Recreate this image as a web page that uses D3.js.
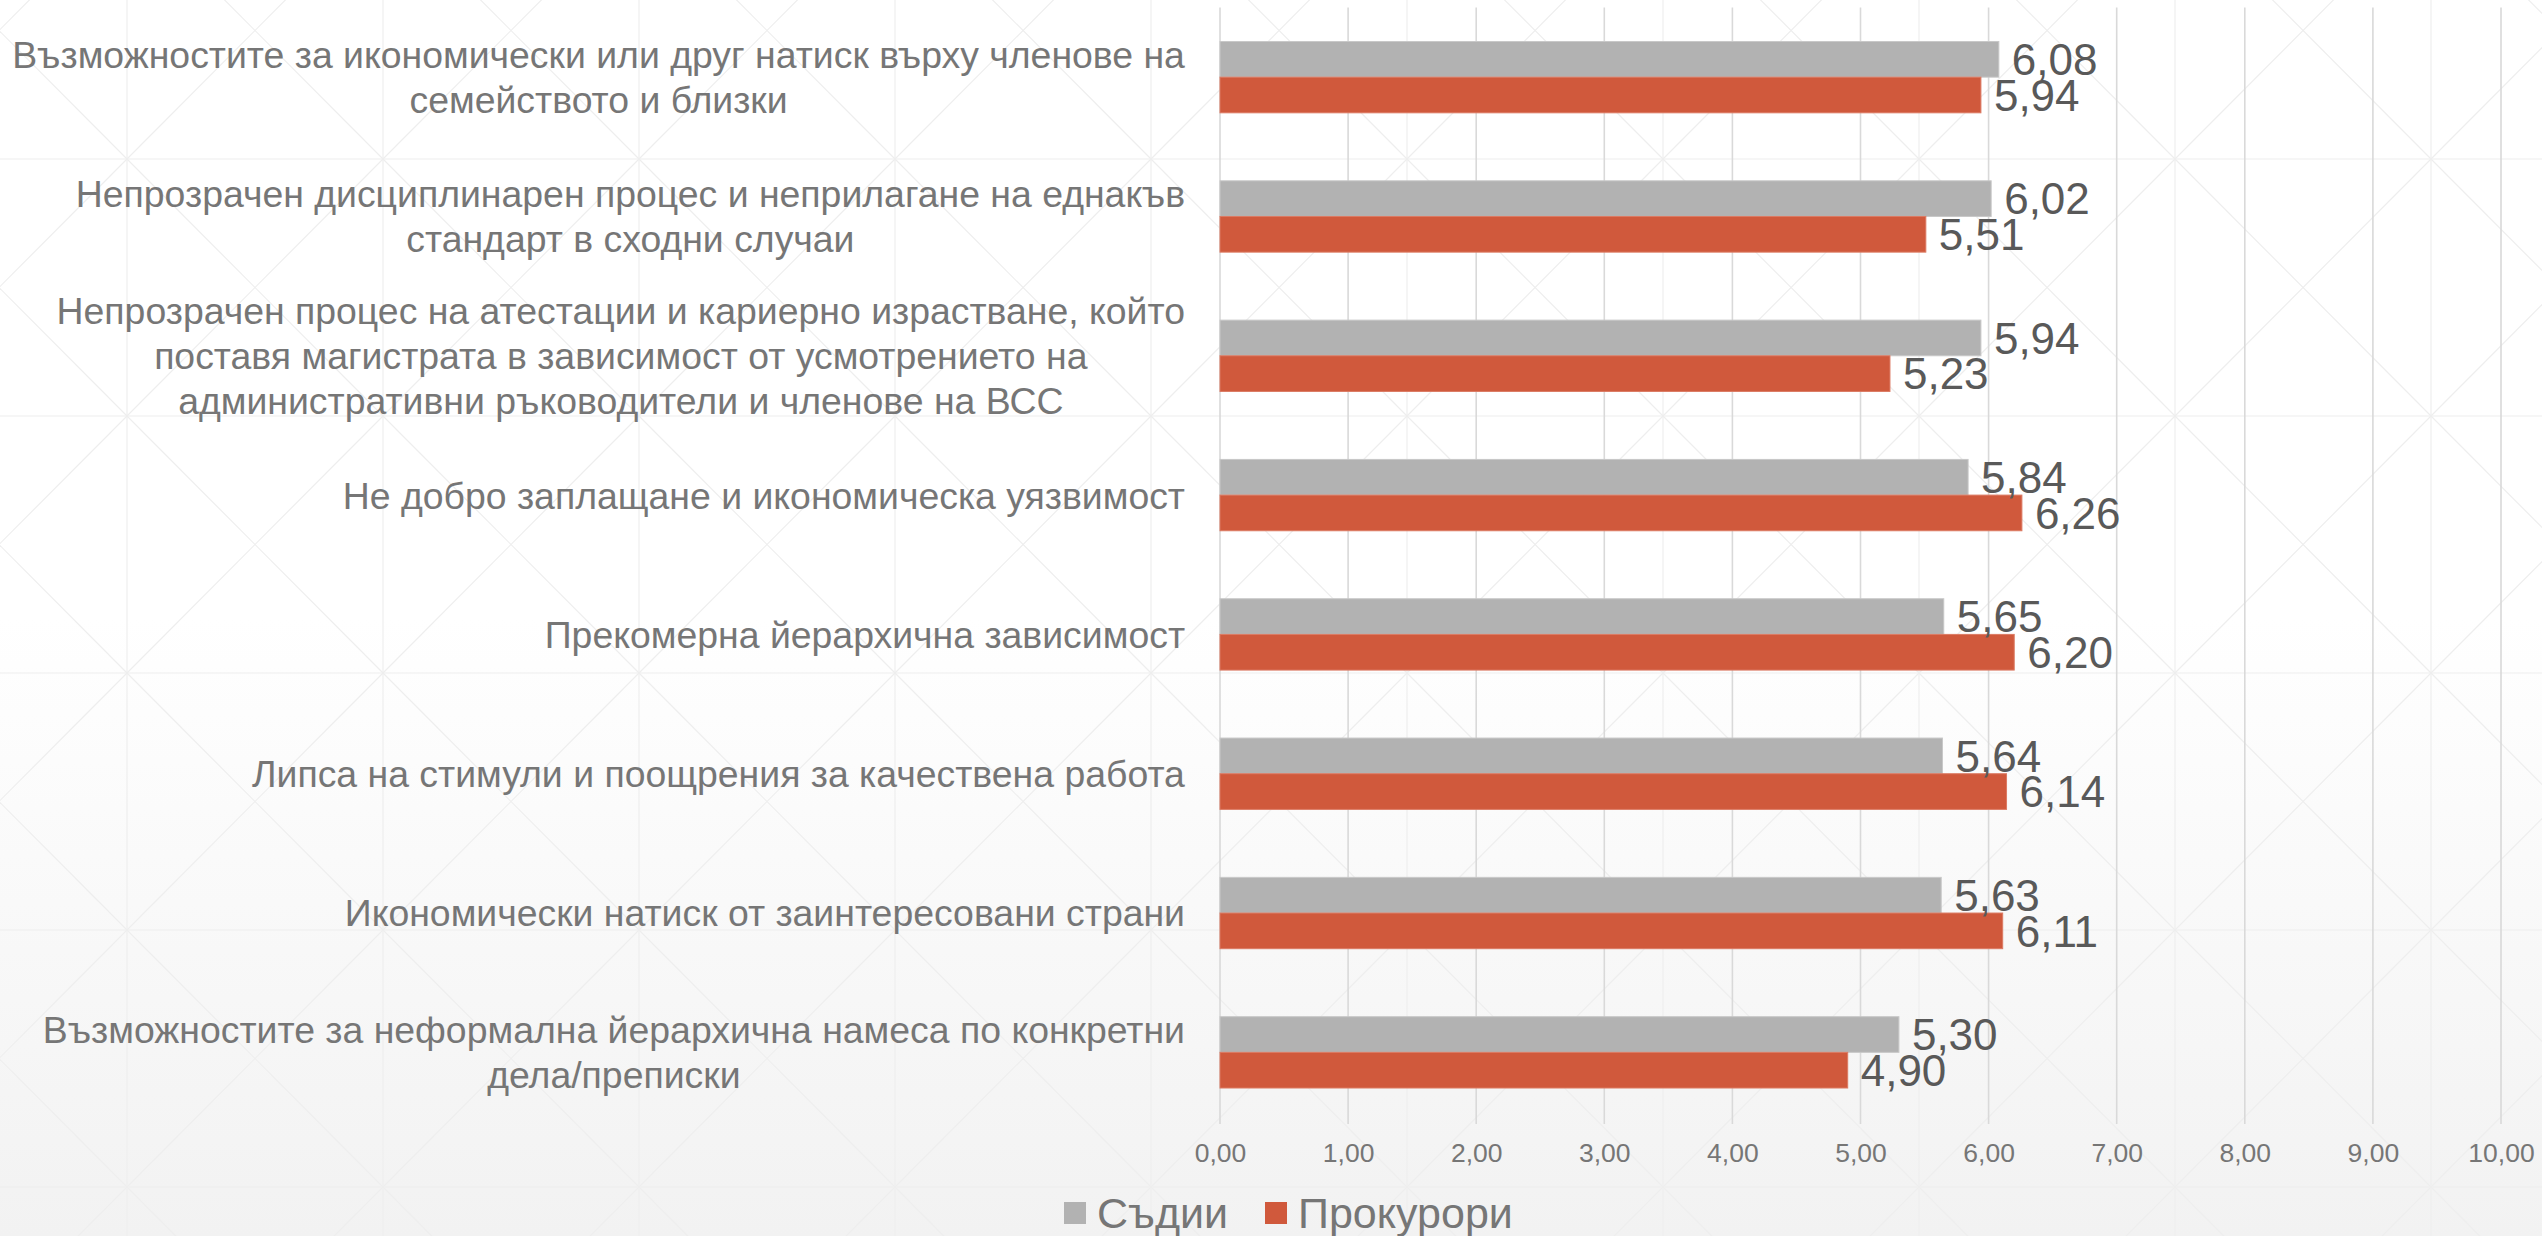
<!DOCTYPE html>
<html>
<head>
<meta charset="utf-8">
<script src="https://cdn.jsdelivr.net/npm/d3@7"></script>
<style>
  html, body { margin: 0; padding: 0; background: #ffffff; }
  svg { display: block; font-family: "Liberation Sans", Arial, sans-serif; }
</style>
</head>
<body>
<svg id="chart" width="2542" height="1236"></svg>
<script>
// ---------------- DATA ----------------
const categories = [
  "Възможностите за икономически или друг натиск върху членове на семейството и близки",
  "Непрозрачен дисциплинарен процес и неприлагане на еднакъв стандарт в сходни случаи",
  "Непрозрачен процес на атестации и кариерно израстване, който поставя магистрата в зависимост от усмотрението на административни ръководители и членове на ВСС",
  "Не добро заплащане и икономическа уязвимост",
  "Прекомерна йерархична зависимост",
  "Липса на стимули и поощрения за качествена работа",
  "Икономически натиск от заинтересовани страни",
  "Възможностите за неформална йерархична намеса по конкретни дела/преписки"
];
const categoryLines = [
  ["Възможностите за икономически или друг натиск върху членове на", "семейството и близки"],
  ["Непрозрачен дисциплинарен процес и неприлагане на еднакъв", "стандарт в сходни случаи"],
  ["Непрозрачен процес на атестации и кариерно израстване, който", "поставя магистрата в зависимост от усмотрението на", "административни ръководители и членове на ВСС"],
  ["Не добро заплащане и икономическа уязвимост"],
  ["Прекомерна йерархична зависимост"],
  ["Липса на стимули и поощрения за качествена работа"],
  ["Икономически натиск от заинтересовани страни"],
  ["Възможностите за неформална йерархична намеса по конкретни", "дела/преписки"]
];
const seriesNames = ["Съдии", "Прокурори"];
const judges      = [6.08, 6.02, 5.94, 5.84, 5.65, 5.64, 5.63, 5.30];
const prosecutors = [5.94, 5.51, 5.23, 6.26, 6.20, 6.14, 6.11, 4.90];
const xTicks = [0, 1, 2, 3, 4, 5, 6, 7, 8, 9, 10];
const seriesColors = ["#b2b2b2", "#d0593c"];

// ---------------- LAYOUT ----------------
const W = 2542, H = 1236;
const plot = { left: 1220, right: 2501, top: 7.5, bottom: 1122 };
const svg = d3.select("#chart");

const fmt = v => d3.format(".2f")(v).replace(".", ",");

// background gradient
const defs = svg.append("defs");
const grad = defs.append("linearGradient").attr("id", "bg")
  .attr("x1", 0).attr("y1", 0).attr("x2", 0).attr("y2", 1);
grad.append("stop").attr("offset", "0%").attr("stop-color", "#ffffff");
grad.append("stop").attr("offset", "50%").attr("stop-color", "#ffffff");
grad.append("stop").attr("offset", "100%").attr("stop-color", "#f2f2f2");
svg.append("rect").attr("width", W).attr("height", H).attr("fill", "url(#bg)");

// decorative lattice pattern of the slide background
const pat = svg.append("g").attr("stroke", "#eeeeee").attr("stroke-width", 1.2).attr("fill", "none");
const px0 = 127, py0 = 159, sx = 256, sy = 257;
const cols = d3.range(-1, 11), rows = d3.range(-1, 5);
cols.forEach(i => {
  pat.append("line").attr("x1", px0 + i * sx).attr("x2", px0 + i * sx).attr("y1", 0).attr("y2", H);
});
rows.forEach(j => {
  pat.append("line").attr("x1", 0).attr("x2", W).attr("y1", py0 + j * sy).attr("y2", py0 + j * sy);
});
cols.forEach(i => rows.forEach(j => {
  const x0 = px0 + i * sx, y0 = py0 + j * sy;
  pat.append("line").attr("x1", x0).attr("y1", y0).attr("x2", x0 + sx).attr("y2", y0 + sy);
  pat.append("line").attr("x1", x0 + sx).attr("y1", y0).attr("x2", x0).attr("y2", y0 + sy);
}));

// scales
const x = d3.scaleLinear().domain([0, 10]).range([plot.left, plot.right]);
const y = d3.scaleBand().domain(d3.range(categories.length))
  .range([plot.top, plot.bottom]).paddingInner(0.488).paddingOuter(0.244);
const ySub = d3.scaleBand().domain(d3.range(seriesNames.length)).range([0, y.bandwidth()]);

// gridlines
svg.append("g").selectAll("line").data(xTicks).join("line")
  .attr("x1", d => x(d)).attr("x2", d => x(d))
  .attr("y1", plot.top).attr("y2", plot.bottom + 2)
  .attr("stroke", "#d9d9d9").attr("stroke-width", 1.6);

// x axis
const xAxis = svg.append("g").attr("transform", `translate(0,${plot.bottom})`)
  .call(d3.axisBottom(x).tickValues(xTicks).tickFormat(fmt).tickSize(0).tickPadding(21));
xAxis.select(".domain").remove();
xAxis.selectAll("text").attr("font-size", 26.5).attr("fill", "#767676")
  .attr("font-family", "\"Liberation Sans\", Arial, sans-serif");

// bars
const series = [judges, prosecutors];
const barData = [];
categories.forEach((c, i) => series.forEach((s, k) => barData.push({ i, k, v: s[i] })));

const gBars = svg.append("g");
gBars.selectAll("rect").data(barData).join("rect")
  .attr("x", x(0))
  .attr("y", d => y(d.i) + ySub(d.k))
  .attr("width", d => x(d.v) - x(0))
  .attr("height", ySub.bandwidth())
  .attr("fill", d => seriesColors[d.k])
  .attr("stroke", d => d.k === 0 ? "#c8c8c8" : "#dc7a63")
  .attr("stroke-width", 1);

// data labels
gBars.selectAll("text").data(barData).join("text")
  .attr("x", d => x(d.v) + 13)
  .attr("y", d => y(d.i) + ySub(d.k) + ySub.bandwidth() / 2)
  .attr("dy", "0.36em")
  .attr("font-size", 44)
  .attr("fill", "#595959")
  .text(d => fmt(d.v));

// category labels (lines centred on each other, block right-aligned to the axis)
const labelRight = 1185, lineH = 45;
const gLab = svg.append("g");
categoryLines.forEach((lines, i) => {
  const g = gLab.append("g");
  const t = g.append("text").attr("font-size", 37.4).attr("fill", "#767676").attr("text-anchor", "middle");
  const cy = y(i) + y.bandwidth() / 2;
  lines.forEach((ln, li) => {
    t.append("tspan").attr("x", 0)
      .attr("y", cy + (li - (lines.length - 1) / 2) * lineH)
      .attr("dy", "0.36em").text(ln);
  });
  const w = t.node().getBBox().width;
  g.attr("transform", `translate(${labelRight - w / 2},0)`);
});

// legend
const legend = svg.append("g").attr("transform", "translate(1064,1202)");
const legOffsets = [0, 201];
seriesNames.forEach((name, k) => {
  const g = legend.append("g").attr("transform", `translate(${legOffsets[k]},0)`);
  g.append("rect").attr("width", 22).attr("height", 22).attr("fill", seriesColors[k]);
  g.append("text").attr("x", 33).attr("y", 26).attr("font-size", 43).attr("fill", "#767676").text(name);
});
</script>
</body>
</html>
